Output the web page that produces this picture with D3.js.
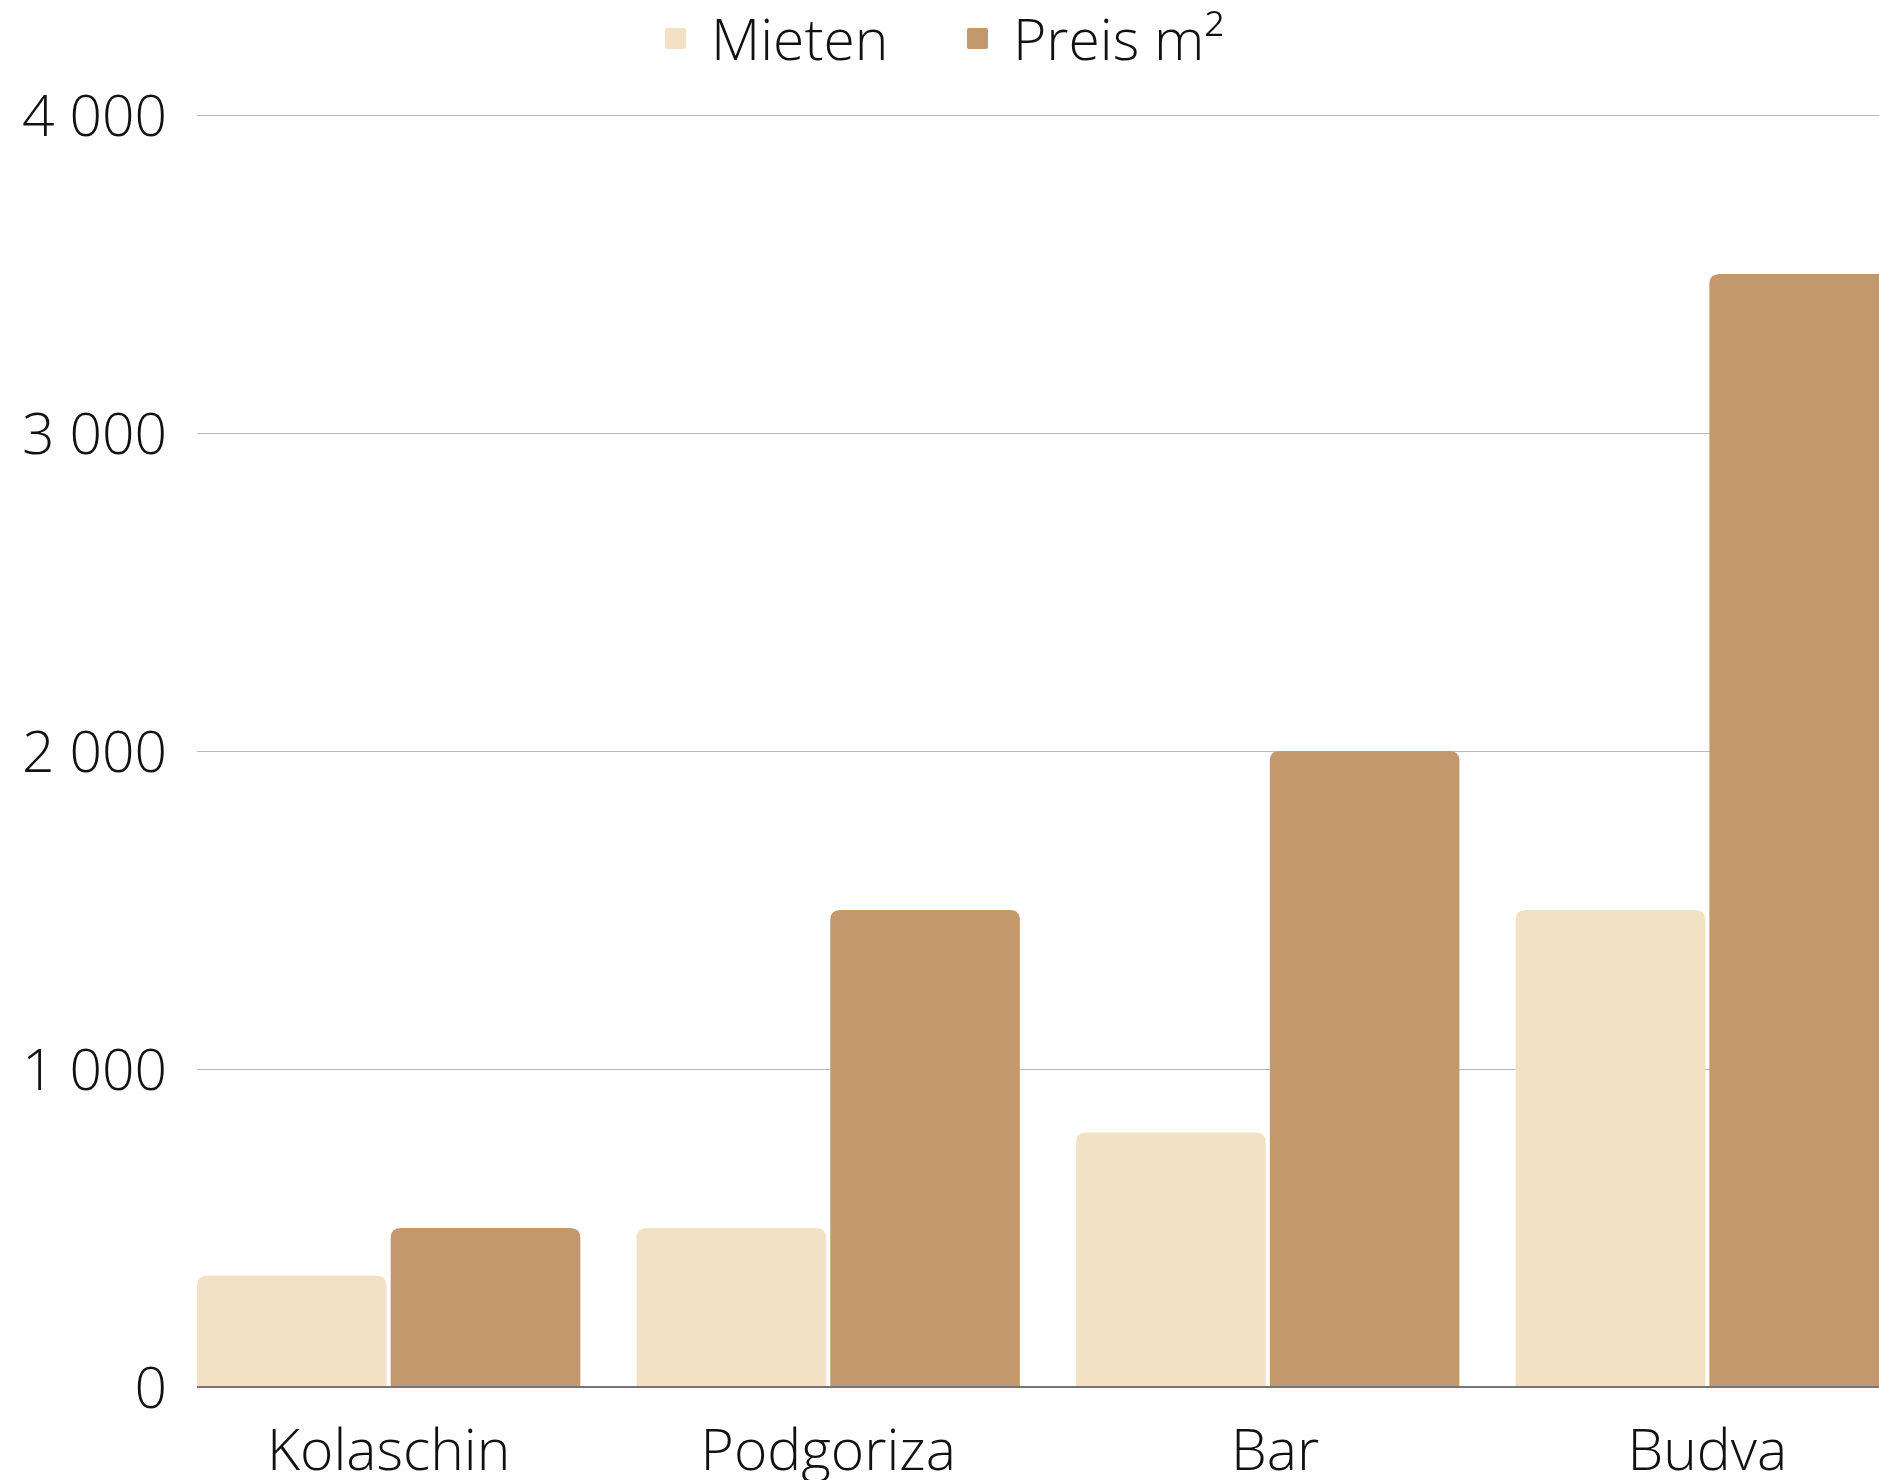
<!DOCTYPE html>
<html>
<head>
<meta charset="utf-8">
<script src="https://cdn.jsdelivr.net/npm/d3@7"></script>
<style>
    body { margin: 0; background: #fff; }
    svg text { font-family: "Open Sans", sans-serif; font-weight: 300; fill: #111; white-space: pre; }
</style>
</head>
<body>
<script>
// chart data
var cities = ["Kolaschin", "Podgoriza", "Bar", "Budva"];
var cityLabels = ["Kolaschin", "Podgoriza", " Bar", "Budva"];
var seriesNames = ["Mieten", "Preis m²"];
var mieten = [350, 500, 800, 1500];
var preis = [500, 1500, 2000, 3500];
var yTicks = [0, 1000, 2000, 3000, 4000];
var colors = ["#f2e1c4", "#c2986c"];

function init() {
    var w = 1879;
    var h = 1480;
    var left = 197;      // where the plot starts
    var bottom = 1387;   // zero line
    var top = 115;       // 4000 line

    var dataset = cities.map(function(c, i) {
        return { city: c, values: [mieten[i], preis[i]] };
    });

    var svg = d3.select("body")
        .append("svg")
        .attr("width", w)
        .attr("height", h);

    var yScale = d3.scaleLinear()
        .domain([0, 4000])
        .range([bottom, top]);

    // groups run past the right edge, same as the original
    var x0 = d3.scaleBand()
        .domain(cities)
        .range([left, left + 1702])
        .paddingInner(0.128)
        .paddingOuter(0);

    var x1 = d3.scaleBand()
        .domain(seriesNames)
        .range([0, x0.bandwidth()])
        .paddingInner(0.021);

    // grid lines
    svg.append("g")
        .selectAll("line")
        .data(yTicks.filter(function(d) { return d > 0; }))
        .enter()
        .append("line")
        .attr("x1", left)
        .attr("x2", w)
        .attr("y1", function(d) { return Math.round(yScale(d)) + 0.5; })
        .attr("y2", function(d) { return Math.round(yScale(d)) + 0.5; })
        .attr("stroke", "#b8b8b8")
        .attr("stroke-width", 1);

    // y tick labels, "4 000" style
    var fmt = function(d) { return d3.format(",")(d).replace(/,/g, " "); };
    svg.append("g")
        .selectAll("text")
        .data(yTicks)
        .enter()
        .append("text")
        .attr("x", 167)
        .attr("y", function(d) { return yScale(d) + 21; })
        .attr("text-anchor", "end")
        .attr("font-size", 57)
        .text(fmt);

    // bars with rounded top corners
    var r = 10;
    function topRounded(x, y, bw, bh) {
        var rr = Math.min(r, bh, bw / 2);
        return "M" + x + "," + (y + bh) +
            "V" + (y + rr) +
            "Q" + x + "," + y + " " + (x + rr) + "," + y +
            "H" + (x + bw - rr) +
            "Q" + (x + bw) + "," + y + " " + (x + bw) + "," + (y + rr) +
            "V" + (y + bh) + "Z";
    }

    var groups = svg.append("g")
        .selectAll("g")
        .data(dataset)
        .enter()
        .append("g")
        .attr("transform", function(d) { return "translate(" + x0(d.city) + ",0)"; });

    groups.selectAll("path")
        .data(function(d) {
            return d.values.map(function(v, i) { return { key: seriesNames[i], value: v, i: i }; });
        })
        .enter()
        .append("path")
        .attr("fill", function(d) { return colors[d.i]; })
        .attr("d", function(d) {
            var y = yScale(d.value);
            return topRounded(x1(d.key), y, x1.bandwidth(), bottom - y);
        });

    // zero line
    svg.append("line")
        .attr("x1", left)
        .attr("x2", w)
        .attr("y1", bottom)
        .attr("y2", bottom)
        .attr("stroke", "#757575")
        .attr("stroke-width", 2);

    // x labels
    svg.append("g")
        .selectAll("text")
        .data(cities)
        .enter()
        .append("text")
        .attr("x", function(d) { return x0(d) + x0.bandwidth() / 2; })
        .attr("y", 1470)
        .attr("text-anchor", "middle")
        .attr("font-size", 57)
        .text(function(d, i) { return cityLabels[i]; });

    // legend
    var legendX = [665, 967];
    var legend = svg.append("g")
        .selectAll("g")
        .data(seriesNames)
        .enter()
        .append("g")
        .attr("transform", function(d, i) { return "translate(" + legendX[i] + ",0)"; });

    legend.append("rect")
        .attr("x", 0)
        .attr("y", 28)
        .attr("width", 21)
        .attr("height", 21)
        .attr("rx", 2)
        .attr("fill", function(d, i) { return colors[i]; });

    legend.append("text")
        .attr("x", 46)
        .attr("y", 60)
        .attr("font-size", 57)
        .text(function(d) { return d; });
}

window.onload = init;
</script>
</body>
</html>
